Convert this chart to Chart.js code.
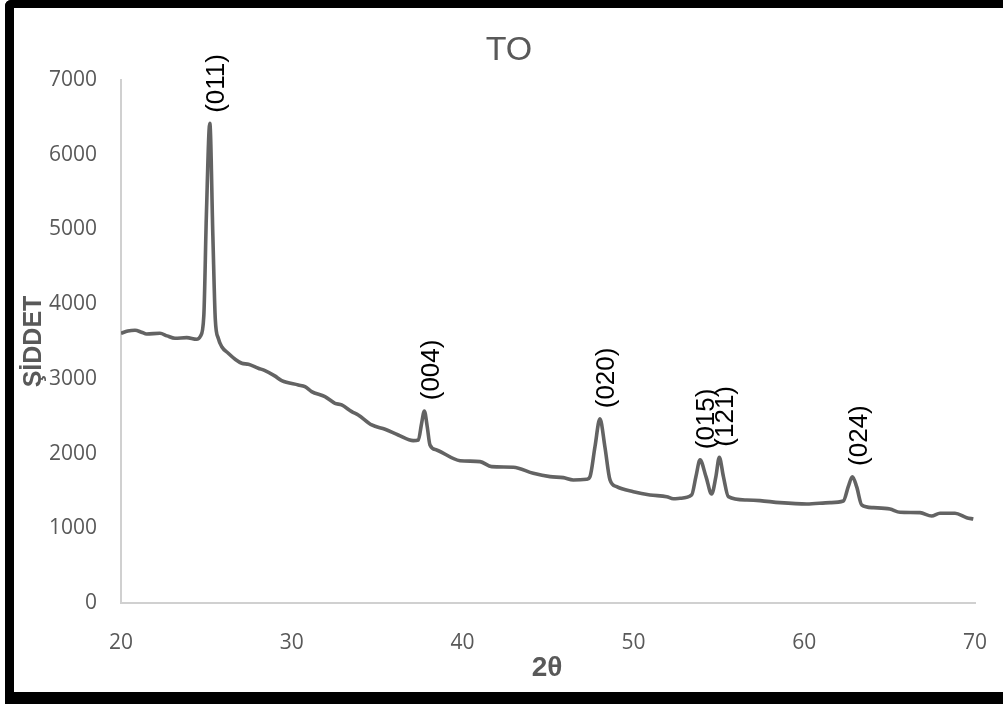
<!DOCTYPE html>
<html>
<head>
<meta charset="utf-8">
<script src="https://cdn.jsdelivr.net/npm/chart.js@4.4.1/dist/chart.umd.min.js"></script>
<style>
  html, body { margin: 0; padding: 0; background: #ffffff; overflow: hidden; width: 1003px; height: 704px; }
  #wrap { position: relative; width: 1003px; height: 704px; }
  #c { position: absolute; left: 0; top: 0; }
  #frame { position: absolute; left: 5px; top: 0; width: 1040px; height: 704px; box-sizing: border-box;
           border-left: 9px solid #000; border-top: 8px solid #000; border-bottom: 12px solid #000;
           border-top-left-radius: 6px; pointer-events: none; }
</style>
</head>
<body>
<div id="wrap">
  <canvas id="c" width="1003" height="704"></canvas>
  <div id="frame"></div>
</div>
<script>
// ---- data ----
const chartTitle = "TO";
const xAxisTitle = "2θ";
const yAxisTitle = "ŞİDDET";

const twoTheta = [
  20.0, 20.4, 20.82, 21.2, 21.5, 22.28, 22.7, 23.16, 23.85, 24.43,
  24.65, 24.85, 25.0, 25.2, 25.38, 25.52, 25.7, 25.9, 26.28, 26.7,
  27.07, 27.46, 28.04, 28.43, 29.0, 29.41, 30.38, 30.77, 31.16, 31.94,
  32.53, 32.92, 33.51, 33.89, 34.68, 35.46, 36.23, 37.11, 37.41, 37.6,
  37.76, 37.93, 38.09, 38.48, 39.85, 41.02, 41.7, 42.97, 44.14, 45.12,
  45.9, 46.48, 47.27, 47.46, 47.75, 48.04, 48.33, 48.63, 49.02, 50.0,
  50.97, 51.95, 52.34, 52.73, 53.41, 53.66, 53.9, 54.25, 54.58, 54.83,
  55.03, 55.27, 55.56, 56.63, 57.41, 58.58, 60.15, 61.51, 62.29, 62.58,
  62.82, 63.07, 63.37, 64.05, 65.02, 65.61, 66.78, 67.46, 67.95, 68.83,
  69.51, 69.9
];
const intensity = [
  3610, 3640, 3650, 3625, 3601, 3610, 3575, 3543, 3552, 3530,
  3570, 3850, 5200, 6420, 4900, 3800, 3540, 3430, 3343, 3260,
  3209, 3195, 3142, 3110, 3040, 2976, 2918, 2896, 2829, 2762,
  2673, 2651, 2561, 2517, 2383, 2325, 2249, 2173, 2182, 2405,
  2570, 2360, 2115, 2048, 1905, 1892, 1825, 1817, 1736, 1691,
  1678, 1647, 1656, 1691, 2092, 2465, 2092, 1647, 1557, 1490,
  1446, 1423, 1396, 1401, 1446, 1691, 1915, 1691, 1459, 1691,
  1950, 1691, 1423, 1379, 1370, 1343, 1325, 1343, 1365, 1557,
  1690, 1557, 1312, 1276, 1258, 1214, 1209, 1165, 1201, 1201,
  1142, 1124
];

const peakLabels = ["(011)", "(004)", "(020)", "(015)", "(121)", "(024)"];
const peakX = [25.2, 37.76, 48.04, 53.9, 55.03, 62.82];
const peakY = [6440, 2593, 2486, 1937, 1972, 1714];

const xTicks = [20, 30, 40, 50, 60, 70];
const yTicks = [0, 1000, 2000, 3000, 4000, 5000, 6000, 7000];

// ---- chart ----
const points = twoTheta.map((x, i) => ({ x: x, y: intensity[i] }));
const grey = '#595959';

const textPlugin = {
  id: 'texts',
  afterDraw(chart) {
    const ctx = chart.ctx;
    const xs = chart.scales.x, ys = chart.scales.y;
    const area = chart.chartArea;
    ctx.save();
    // title
    ctx.fillStyle = grey;
    ctx.font = '34px "Liberation Sans Narrow", "Liberation Sans", sans-serif';
    ctx.textAlign = 'center';
    ctx.textBaseline = 'middle';
    ctx.fillText(chartTitle, 509, 51);
    // x axis title
    ctx.font = 'bold 28px "Liberation Sans", sans-serif';
    ctx.fillText(xAxisTitle, (area.left + area.right) / 2 - 1, 668);
    // y axis title
    ctx.save();
    ctx.translate(34, (area.top + area.bottom) / 2);
    ctx.rotate(-Math.PI / 2);
    ctx.font = 'bold 25px "Liberation Sans", sans-serif';
    ctx.fillText(yAxisTitle, 0, 0);
    ctx.restore();
    // peak labels
    ctx.fillStyle = '#000000';
    ctx.font = '26px "Liberation Sans", sans-serif';
    ctx.textAlign = 'left';
    ctx.textBaseline = 'middle';
    peakLabels.forEach((lab, i) => {
      const px = xs.getPixelForValue(peakX[i]) + 7;
      const py = ys.getPixelForValue(peakY[i]) - 9;
      ctx.save();
      ctx.translate(px, py);
      ctx.rotate(-Math.PI / 2);
      ctx.fillText(lab, 0, 0);
      ctx.restore();
    });
    ctx.restore();
  }
};

new Chart(document.getElementById('c'), {
  type: 'scatter',
  data: {
    datasets: [{
      data: points,
      showLine: true,
      borderColor: '#636363',
      borderWidth: 3.6,
      pointRadius: 0,
      pointHoverRadius: 0,
      cubicInterpolationMode: 'monotone',
      fill: false
    }]
  },
  options: {
    responsive: false,
    animation: false,
    devicePixelRatio: 1,
    layout: { padding: { top: 80, right: 28, left: 0, bottom: 0 } },
    plugins: { legend: { display: false }, tooltip: { enabled: false }, title: { display: false } },
    scales: {
      x: {
        type: 'linear',
        min: 20, max: 70,
        afterFit(scale) { scale.height = 101; scale.paddingLeft = 0; scale.paddingRight = 0; },
        afterBuildTicks(scale) { scale.ticks = xTicks.map(v => ({ value: v })); },
        grid: { display: false, drawTicks: false },
        border: { display: true, color: '#d0d0d0', width: 2 },
        ticks: { color: grey, padding: 27, font: { family: '"Open Sans", sans-serif', size: 21 }, maxRotation: 0,
                 callback: v => String(v) }
      },
      y: {
        type: 'linear',
        min: 0, max: 7000,
        afterFit(scale) { scale.width = 121; },
        afterBuildTicks(scale) { scale.ticks = yTicks.map(v => ({ value: v })); },
        grid: { display: false, drawTicks: false },
        border: { display: true, color: '#d0d0d0', width: 2 },
        ticks: { color: grey, padding: 24, font: { family: '"Open Sans", sans-serif', size: 21 },
                 callback: v => String(v) }
      }
    }
  },
  plugins: [textPlugin]
});
</script>
</body>
</html>
